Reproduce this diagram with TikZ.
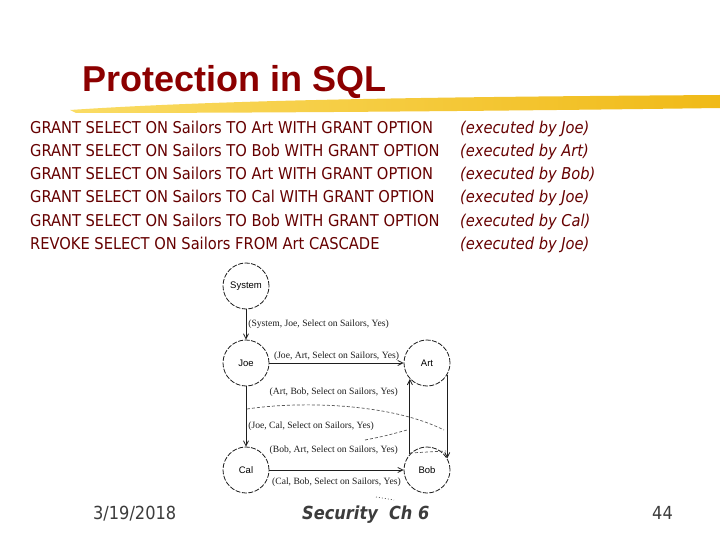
\documentclass[tikz,border=0pt]{standalone}
\usepackage{fontspec}
\setmainfont{Liberation Serif}
\newfontfamily\slidefont{DejaVu Sans Condensed}
\newfontfamily\headfont{Liberation Sans}
\usetikzlibrary{positioning,arrows.meta}
\definecolor{maroon}{RGB}{102,0,0}
\definecolor{titlered}{RGB}{140,0,0}
\definecolor{brushdark}{RGB}{240,186,24}
\definecolor{brushlight}{RGB}{250,220,100}
\definecolor{footgray}{RGB}{60,60,60}
\definecolor{ink}{RGB}{30,30,30}

\begin{document}
\begin{tikzpicture}[x=1pt, y=-1pt, node distance=107pt,
	sqlline/.style={anchor=base west, inner sep=0pt, text=maroon, font=\slidefont\fontsize{16.3}{19}\selectfont},
	byline/.style={sqlline, font=\slidefont\itshape\fontsize{16.3}{19}\selectfont},
	footer/.style={anchor=base west, inner sep=0pt, text=footgray, font=\slidefont\fontsize{18}{20}\selectfont},
	user/.style={draw=ink, circle, dash pattern=on 5pt off 1.5pt, line width=0.8pt, minimum size=46pt, inner sep=0pt, font=\headfont\fontsize{9.5}{10}\selectfont},
	grant/.style={font=\fontsize{9.6}{10}\selectfont, text=ink, inner sep=2pt},
	edge/.style={draw=ink, line width=0.8pt, -{Straight Barb[length=5pt,width=5pt]}},
	scan/.style={draw=ink!75, line width=0.7pt, dash pattern=on 3pt off 2pt}]
				\fill[white] (0,0) rectangle (720,540);
				\useasboundingbox (0,0) rectangle (720,540);
				\shade[left color=brushlight, right color=brushdark] (70,110) .. controls (220,100) and (420,97) .. (720,95) -- (720,108) .. controls (500,111) and (260,113) .. (76,113) -- cycle;
				\node[anchor=base west, inner sep=0pt, text=titlered, font=\headfont\bfseries\fontsize{36}{40}\selectfont] (title) at (82,92) {Protection in SQL};
				\node[sqlline] (g1) at (30,134) {GRANT SELECT ON Sailors TO Art WITH GRANT OPTION};
				\node[sqlline] (g2) at (30,157) {GRANT SELECT ON Sailors TO Bob WITH GRANT OPTION};
				\node[sqlline] (g3) at (30,180) {GRANT SELECT ON Sailors TO Art WITH GRANT OPTION};
				\node[sqlline] (g4) at (30,203) {GRANT SELECT ON Sailors TO Cal WITH GRANT OPTION};
				\node[sqlline] (g5) at (30,226) {GRANT SELECT ON Sailors TO Bob WITH GRANT OPTION};
				\node[sqlline] (r1) at (30,249) {REVOKE SELECT ON Sailors FROM Art CASCADE};
				\node[byline] (e1) at (460,134) {(executed by Joe)};
				\node[byline] (e2) at (460,157) {(executed by Art)};
				\node[byline] (e3) at (460,180) {(executed by Bob)};
				\node[byline] (e4) at (460,203) {(executed by Joe)};
				\node[byline] (e5) at (460,226) {(executed by Cal)};
				\node[byline] (e6) at (460,249) {(executed by Joe)};
				\node[user] (sys) at (246,286) {System};
				\node[user] (joe) [below of=sys, node distance=77pt] {Joe};
				\node[user] (art) [right of=joe, node distance=181pt] {Art};
				\node[user] (cal) [below of=joe] {Cal};
				\node[user] (bob) [below of=art] {Bob};
				\draw[edge] (sys) -- node[grant, right] {(System, Joe, Select on Sailors, Yes)} (joe);
				\draw[edge] (joe) -- node[grant, above] {(Joe, Art, Select on Sailors, Yes)} (art);
				\draw[edge] (art.-30) -- (bob.30);
				\draw[edge] (bob.137) -- (art.-137);
				\draw[edge] (joe) -- node[grant, right, pos=0.66] {(Joe, Cal, Select on Sailors, Yes)} (cal);
				\draw[edge] (cal) -- node[grant, below=5pt] {(Cal, Bob, Select on Sailors, Yes)} (bob);
				\node[grant, anchor=east] (ab) at (400,392) {(Art, Bob, Select on Sailors, Yes)};
				\node[grant, anchor=east] (ba) at (400,450) {(Bob, Art, Select on Sailors, Yes)};
				\draw[scan] (247,409) .. controls (300,401) and (390,403) .. (444,430);
				\draw[scan] (365,440) .. controls (385,436) .. (407,430);
				\draw[scan] (410,453) -- (446,451);
				\draw[scan, dash pattern=on 1pt off 2pt] (376,497) -- (394,500);
				\node[footer] (date) at (93,519) {3/19/2018};
				\node[footer, font=\slidefont\bfseries\itshape\fontsize{18}{20}\selectfont] (course) at (302,519) {Security\ \ Ch 6};
				\node[footer] (page) at (652,519) {44};
			\end{tikzpicture}
\end{document}
